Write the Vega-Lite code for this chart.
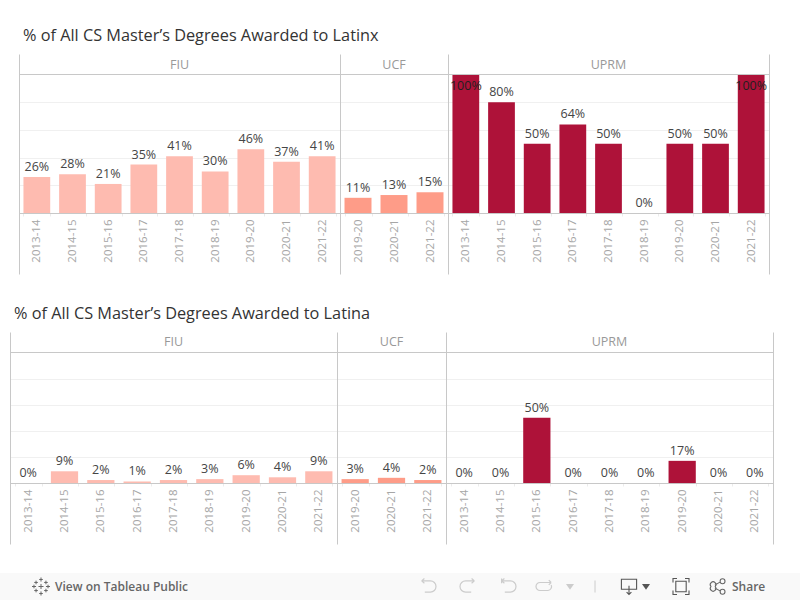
{
"$schema":"https://vega.github.io/schema/vega-lite/v6.json",
"padding":{"left":0,"top":27,"right":0,"bottom":0},
"background":"white",
"spacing":29,
"config":{
 "view":{"stroke":null},
 "concat":{"spacing":0},
 "axisX":{"title":null,"labelAngle":-90,"labelAlign":"right","labelBaseline":"middle","labelFont":"Open Sans","labelFontSize":11.5,"labelColor":"#a6a6a6","labelPadding":3,"domainColor":"#c8c8c8","domainWidth":1,"tickColor":"#ececec","tickSize":3,"tickBand":"extent","offset":-61,"grid":false,"labelOverlap":false},
 "axisY":{"title":null,"labels":false,"ticks":false,"domain":true,"domainColor":"#c8c8c8","domainWidth":1,"grid":true,"gridColor":"#f0f0f0","gridWidth":1},
 "text":{"font":"Open Sans","fontSize":12.5,"color":"#454545"},
 "title":{"font":"Open Sans","fontSize":16.3,"fontWeight":"normal","color":"#333333","anchor":"start","offset":10}
},
"datasets":{
 "latinx":[
  {"university":"FIU","year":"2013-14","share":0.26},{"university":"FIU","year":"2014-15","share":0.28},{"university":"FIU","year":"2015-16","share":0.21},{"university":"FIU","year":"2016-17","share":0.35},{"university":"FIU","year":"2017-18","share":0.41},{"university":"FIU","year":"2018-19","share":0.30},{"university":"FIU","year":"2019-20","share":0.46},{"university":"FIU","year":"2020-21","share":0.37},{"university":"FIU","year":"2021-22","share":0.41},
  {"university":"UCF","year":"2019-20","share":0.11},{"university":"UCF","year":"2020-21","share":0.13},{"university":"UCF","year":"2021-22","share":0.15},
  {"university":"UPRM","year":"2013-14","share":1},{"university":"UPRM","year":"2014-15","share":0.8},{"university":"UPRM","year":"2015-16","share":0.5},{"university":"UPRM","year":"2016-17","share":0.64},{"university":"UPRM","year":"2017-18","share":0.5},{"university":"UPRM","year":"2018-19","share":0},{"university":"UPRM","year":"2019-20","share":0.5},{"university":"UPRM","year":"2020-21","share":0.5},{"university":"UPRM","year":"2021-22","share":1}
 ],
 "latina":[
  {"university":"FIU","year":"2013-14","share":0},{"university":"FIU","year":"2014-15","share":0.09},{"university":"FIU","year":"2015-16","share":0.023},{"university":"FIU","year":"2016-17","share":0.012},{"university":"FIU","year":"2017-18","share":0.023},{"university":"FIU","year":"2018-19","share":0.03},{"university":"FIU","year":"2019-20","share":0.06},{"university":"FIU","year":"2020-21","share":0.044},{"university":"FIU","year":"2021-22","share":0.09},
  {"university":"UCF","year":"2019-20","share":0.03},{"university":"UCF","year":"2020-21","share":0.04},{"university":"UCF","year":"2021-22","share":0.023},
  {"university":"UPRM","year":"2013-14","share":0},{"university":"UPRM","year":"2014-15","share":0},{"university":"UPRM","year":"2015-16","share":0.5},{"university":"UPRM","year":"2016-17","share":0},{"university":"UPRM","year":"2017-18","share":0},{"university":"UPRM","year":"2018-19","share":0},{"university":"UPRM","year":"2019-20","share":0.17},{"university":"UPRM","year":"2020-21","share":0},{"university":"UPRM","year":"2021-22","share":0}
 ]
},
"vconcat":[
 {"spacing":31,"vconcat":[
 {"title":{"text":"% of All CS Master’s Degrees Awarded to Latinx","dx":23},"bounds":"flush",
  "hconcat":[
  {"width":19,"height":220,"data":{"values":[]},"mark":"rule","encoding":{}},
  {"width":321,"height":220,
   "layer":[
    {"data":{"name":"latinx"},"transform":[{"filter":"datum.university==='FIU'"}],
     "encoding":{"x":{"field":"year","type":"nominal","scale":{"paddingInner":0.25,"paddingOuter":0.125}},"y":{"field":"share","type":"quantitative","stack":null,"scale":{"domain":[-0.44,1.148],"nice":false,"zero":false},"axis":{"values":[0.2,0.4,0.6,0.8]}}},
     "layer":[
      {"mark":{"type":"bar","color":"#febbb0"}},
      {"mark":{"type":"text","dy":-10},"encoding":{"text":{"field":"share","type":"quantitative","format":".0%"}}}
     ]},
    {"data":{"values":[{"university":"FIU"}]},"mark":{"type":"text","color":"#999999","fontSize":12.5},"encoding":{"x":{"datum":"2017-18"},"y":{"datum":1.072,"type":"quantitative"},"text":{"field":"university"}}},
    {"data":{"values":[{"line":"header"}]},"mark":{"type":"rule","color":"#c8c8c8"},"encoding":{"y":{"datum":1,"type":"quantitative"}}}
   ]},
  {"width":108,"height":220,
   "layer":[
    {"data":{"name":"latinx"},"transform":[{"filter":"datum.university==='UCF'"}],
     "encoding":{"x":{"field":"year","type":"nominal","scale":{"paddingInner":0.25,"paddingOuter":0.125}},"y":{"field":"share","type":"quantitative","stack":null,"scale":{"domain":[-0.44,1.148],"nice":false,"zero":false},"axis":{"values":[0.2,0.4,0.6,0.8]}}},
     "layer":[
      {"mark":{"type":"bar","color":"#fe9c88"}},
      {"mark":{"type":"text","dy":-10},"encoding":{"text":{"field":"share","type":"quantitative","format":".0%"}}}
     ]},
    {"data":{"values":[{"university":"UCF"}]},"mark":{"type":"text","color":"#999999","fontSize":12.5},"encoding":{"x":{"datum":"2020-21"},"y":{"datum":1.072,"type":"quantitative"},"text":{"field":"university"}}},
    {"data":{"values":[{"line":"header"}]},"mark":{"type":"rule","color":"#c8c8c8"},"encoding":{"y":{"datum":1,"type":"quantitative"}}}
   ]},
  {"width":321,"height":220,"resolve":{"scale":{"y":"independent"}},
   "layer":[
    {"layer":[
     {"data":{"name":"latinx"},"transform":[{"filter":"datum.university==='UPRM'"}],
      "encoding":{"x":{"field":"year","type":"nominal","scale":{"paddingInner":0.25,"paddingOuter":0.125}},"y":{"field":"share","type":"quantitative","stack":null,"scale":{"domain":[-0.44,1.148],"nice":false,"zero":false},"axis":{"values":[0.2,0.4,0.6,0.8]}}},
      "layer":[
       {"mark":{"type":"bar","color":"#ae1239"}},
       {"transform":[{"filter":"datum.share<1"}],"mark":{"type":"text","dy":-10},"encoding":{"text":{"field":"share","type":"quantitative","format":".0%"}}},
       {"transform":[{"filter":"datum.share>=1"}],"mark":{"type":"text","dy":11,"color":"#1f1f1f"},"encoding":{"text":{"field":"share","type":"quantitative","format":".0%"}}}
      ]},
     {"data":{"values":[{"university":"UPRM"}]},"mark":{"type":"text","color":"#999999","fontSize":12.5},"encoding":{"x":{"datum":"2017-18"},"y":{"datum":1.072,"type":"quantitative"},"text":{"field":"university"}}},
     {"data":{"values":[{"line":"header"}]},"mark":{"type":"rule","color":"#c8c8c8"},"encoding":{"y":{"datum":1,"type":"quantitative"}}}
    ]},
    {"data":{"values":[{"line":"edge"}]},"mark":{"type":"rule","opacity":0},"encoding":{"y":{"datum":0,"type":"quantitative","scale":{"domain":[-0.44,1.148],"nice":false,"zero":false},"axis":{"orient":"right","grid":false}}}}
   ]}
 ]},
 {"title":{"text":"% of All CS Master’s Degrees Awarded to Latina","dx":14},"bounds":"flush",
  "hconcat":[
  {"width":10,"height":212,"data":{"values":[]},"mark":"rule","encoding":{}},
  {"width":327,"height":212,
   "layer":[
    {"data":{"name":"latina"},"transform":[{"filter":"datum.university==='FIU'"}],
     "encoding":{"x":{"field":"year","type":"nominal","scale":{"paddingInner":0.25,"paddingOuter":0.125}},"y":{"field":"share","type":"quantitative","stack":null,"scale":{"domain":[-0.467,1.157],"nice":false,"zero":false},"axis":{"values":[0.2,0.4,0.6,0.8]}}},
     "layer":[
      {"mark":{"type":"bar","color":"#febbb0"}},
      {"mark":{"type":"text","dy":-10},"encoding":{"text":{"field":"share","type":"quantitative","format":".0%"}}}
     ]},
    {"data":{"values":[{"university":"FIU"}]},"mark":{"type":"text","color":"#999999","fontSize":12.5},"encoding":{"x":{"datum":"2017-18"},"y":{"datum":1.077,"type":"quantitative"},"text":{"field":"university"}}},
    {"data":{"values":[{"line":"header"}]},"mark":{"type":"rule","color":"#c8c8c8"},"encoding":{"y":{"datum":1,"type":"quantitative"}}}
   ]},
  {"width":109,"height":212,
   "layer":[
    {"data":{"name":"latina"},"transform":[{"filter":"datum.university==='UCF'"}],
     "encoding":{"x":{"field":"year","type":"nominal","scale":{"paddingInner":0.25,"paddingOuter":0.125}},"y":{"field":"share","type":"quantitative","stack":null,"scale":{"domain":[-0.467,1.157],"nice":false,"zero":false},"axis":{"values":[0.2,0.4,0.6,0.8]}}},
     "layer":[
      {"mark":{"type":"bar","color":"#fe9c88"}},
      {"mark":{"type":"text","dy":-10},"encoding":{"text":{"field":"share","type":"quantitative","format":".0%"}}}
     ]},
    {"data":{"values":[{"university":"UCF"}]},"mark":{"type":"text","color":"#999999","fontSize":12.5},"encoding":{"x":{"datum":"2020-21"},"y":{"datum":1.077,"type":"quantitative"},"text":{"field":"university"}}},
    {"data":{"values":[{"line":"header"}]},"mark":{"type":"rule","color":"#c8c8c8"},"encoding":{"y":{"datum":1,"type":"quantitative"}}}
   ]},
  {"width":327,"height":212,"resolve":{"scale":{"y":"independent"}},
   "layer":[
    {"layer":[
     {"data":{"name":"latina"},"transform":[{"filter":"datum.university==='UPRM'"}],
      "encoding":{"x":{"field":"year","type":"nominal","scale":{"paddingInner":0.25,"paddingOuter":0.125}},"y":{"field":"share","type":"quantitative","stack":null,"scale":{"domain":[-0.467,1.157],"nice":false,"zero":false},"axis":{"values":[0.2,0.4,0.6,0.8]}}},
      "layer":[
       {"mark":{"type":"bar","color":"#ae1239"}},
       {"mark":{"type":"text","dy":-10},"encoding":{"text":{"field":"share","type":"quantitative","format":".0%"}}}
      ]},
     {"data":{"values":[{"university":"UPRM"}]},"mark":{"type":"text","color":"#999999","fontSize":12.5},"encoding":{"x":{"datum":"2017-18"},"y":{"datum":1.077,"type":"quantitative"},"text":{"field":"university"}}},
     {"data":{"values":[{"line":"header"}]},"mark":{"type":"rule","color":"#c8c8c8"},"encoding":{"y":{"datum":1,"type":"quantitative"}}}
    ]},
    {"data":{"values":[{"line":"edge"}]},"mark":{"type":"rule","opacity":0},"encoding":{"y":{"datum":0,"type":"quantitative","scale":{"domain":[-0.467,1.157],"nice":false,"zero":false},"axis":{"orient":"right","grid":false}}}}
   ]}
 ]}
 ]},
 {"width":800,"height":27,"view":{"fill":"#f9f9f9","stroke":null},"data":{"values":[{"toolbar":"Tableau Public"}]},
  "layer":[
   {"mark":{"type":"point","shape":"M0 -1V-.55M-.2 -.78H.2M0 .55V1M-.2 .78H.2M-1 0H-.55M-.78 -.2V.2M.55 0H1M.78 -.2V.2M0 -.28V.28M-.28 0H.28M-.55 -.65V-.25M-.75 -.45H-.35M.55 -.65V-.25M.35 -.45H.75M-.55 .25V.65M-.75 .45H-.35M.55 .25V.65M.35 .45H.75","size":324,"stroke":"#666666","strokeWidth":1,"opacity":1},"encoding":{"x":{"datum":41,"scale":{"domain":[0,800],"nice":false},"axis":null}}},
   {"mark":{"type":"text","text":"View on Tableau Public","align":"left","font":"Open Sans","fontSize":12,"fontWeight":600,"color":"#666666"},"encoding":{"x":{"datum":55}}},
   {"mark":{"type":"point","shape":"M-.8 -.7H.3A.7 .7 0 0 1 .3 .7H-.4M-.8 -.7L-.45 -1M-.8 -.7L-.45 -.4","size":256,"stroke":"#cccccc","strokeWidth":1.2,"opacity":1},"encoding":{"x":{"datum":428}}},
   {"mark":{"type":"point","shape":"M.8 -.7H-.3A.7 .7 0 0 0 -.3 .7H.4M.8 -.7L.45 -1M.8 -.7L.45 -.4","size":256,"stroke":"#cccccc","strokeWidth":1.2,"opacity":1},"encoding":{"x":{"datum":468}}},
   {"mark":{"type":"point","shape":"M-.8 -1V-.4M-.8 -.7H.3A.7 .7 0 0 1 .3 .7H-.4M-.8 -.7L-.45 -1M-.8 -.7L-.45 -.4","size":256,"stroke":"#cccccc","strokeWidth":1.2,"opacity":1},"encoding":{"x":{"datum":508}}},
   {"mark":{"type":"point","shape":"M.9 -.5H-.5A.5 .5 0 0 0 -.5 .5H.5A.5 .5 0 0 0 .9 -.2M.9 -.5L.6 -.8M.9 -.5L.6 -.2","size":256,"stroke":"#cccccc","strokeWidth":1.2,"opacity":1},"encoding":{"x":{"datum":544}}},
   {"mark":{"type":"point","shape":"M-1 -.6H1L0 .8Z","filled":true,"size":64,"color":"#cccccc","opacity":1},"encoding":{"x":{"datum":570}}},
   {"mark":{"type":"point","shape":"M0 -1V1","size":144,"stroke":"#cccccc","strokeWidth":1,"opacity":1},"encoding":{"x":{"datum":595}}},
   {"mark":{"type":"point","shape":"M-.95 -.9H.95V.35H-.95ZM0 -.1V1M-.3 .7L0 1L.3 .7","size":256,"stroke":"#555555","strokeWidth":1.1,"opacity":1},"encoding":{"x":{"datum":629}}},
   {"mark":{"type":"point","shape":"M-1 -.6H1L0 .8Z","filled":true,"size":64,"color":"#555555","opacity":1},"encoding":{"x":{"datum":646}}},
   {"mark":{"type":"point","shape":"M-1 -.5V-1H-.5M.5 -1H1V-.5M1 .5V1H.5M-.5 1H-1V.5M-.65 -.65H.65V.65H-.65Z","size":256,"stroke":"#555555","strokeWidth":1.1,"opacity":1},"encoding":{"x":{"datum":681}}},
   {"mark":{"type":"point","shape":"M-.45 -.2L.4 -.7M-.45 .2L.4 .7M-.4 0A.4 .4 0 1 1 -1 0A.4 .4 0 1 1 -.4 0ZM1 -.75A.35 .35 0 1 1 .3 -.75A.35 .35 0 1 1 1 -.75ZM1 .75A.35 .35 0 1 1 .3 .75A.35 .35 0 1 1 1 .75Z","size":196,"stroke":"#666666","strokeWidth":1.1,"opacity":1},"encoding":{"x":{"datum":718}}},
   {"mark":{"type":"text","text":"Share","align":"left","font":"Open Sans","fontSize":12,"fontWeight":600,"color":"#666666"},"encoding":{"x":{"datum":732}}}
  ]}
]
}
